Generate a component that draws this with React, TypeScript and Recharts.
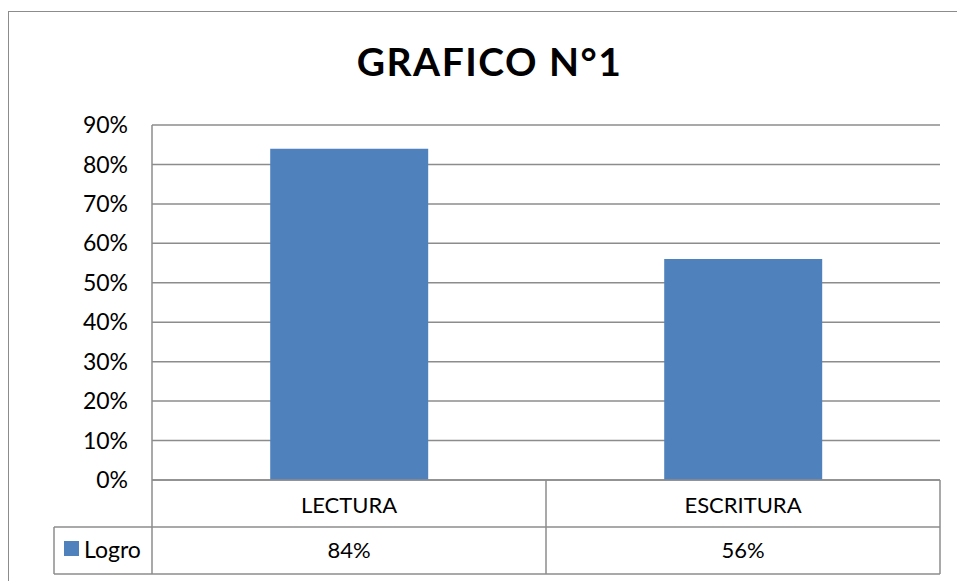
import { Bar, BarChart, CartesianGrid, XAxis, YAxis } from 'recharts';

const categories = ['LECTURA', 'ESCRITURA'];
const logro = [84, 56];
const yTicks = [0, 10, 20, 30, 40, 50, 60, 70, 80, 90];
const seriesName = 'Logro';
const title = 'GRAFICO N°1';

const data = categories.map((name, i) => ({ name, logro: logro[i] }));

const FONT = 'Lato, "Open Sans", sans-serif';
const GRID = '#8c8c8c';
const BAR = '#4f81bd';

function TableTick(props: any) {
  const { x, y, payload, index, width } = props;
  const band = width / categories.length;
  const left = x - band / 2;
  const right = x + band / 2;
  const row1 = y + 47;
  const row2 = y + 94;
  return (
    <g>
      <line x1={right} y1={y} x2={right} y2={row2} stroke={GRID} strokeWidth={1.5} />
      <line x1={left} y1={row1} x2={right} y2={row1} stroke={GRID} strokeWidth={1.5} />
      <line x1={left} y1={row2} x2={right} y2={row2} stroke={GRID} strokeWidth={1.5} />
      <text x={x} y={y + 33} textAnchor="middle" fontFamily={FONT} fontSize={22} fill="#000">
        {payload.value}
      </text>
      <text x={x} y={y + 78} textAnchor="middle" fontFamily={FONT} fontSize={22} fill="#000">
        {logro[index]}%
      </text>
      {index === 0 && (
        <g>
          <line x1={54} y1={row1} x2={left} y2={row1} stroke={GRID} strokeWidth={1.5} />
          <line x1={54} y1={row2} x2={left} y2={row2} stroke={GRID} strokeWidth={1.5} />
          <line x1={54} y1={row1} x2={54} y2={row2} stroke={GRID} strokeWidth={1.5} />
          <line x1={left} y1={y} x2={left} y2={row2} stroke={GRID} strokeWidth={1.5} />
          <rect x={64} y={row1 + 14} width={15} height={15} fill={BAR} />
          <text x={84} y={y + 78} fontFamily={FONT} fontSize={23} fill="#000">
            {seriesName}
          </text>
        </g>
      )}
    </g>
  );
}

export default function App() {
  return (
    <div
      style={{
        position: 'absolute',
        left: 0,
        top: 0,
        width: 957,
        height: 581,
        overflow: 'hidden',
        background: '#fff'
      }}
    >
      <div
        style={{
          position: 'absolute',
          left: 8,
          top: 11,
          width: 1000,
          height: 700,
          border: '1.5px solid #8c8c8c',
          boxSizing: 'border-box'
        }}
      />
      <div
        style={{
          position: 'absolute',
          left: 0,
          top: 37,
          width: 979,
          textAlign: 'center',
          fontFamily: FONT,
          fontWeight: 700,
          fontSize: 39,
          letterSpacing: 1.5,
          color: '#000',
          lineHeight: '48px'
        }}
      >
        {title}
      </div>
      <div style={{ position: 'absolute', left: 0, top: 0 }}>
        <BarChart
          width={957}
          height={581}
          data={data}
          margin={{ top: 125, right: 17, left: 0, bottom: 0 }}
          barCategoryGap="30%"
        >
          <CartesianGrid vertical={false} stroke={GRID} strokeWidth={1.5} />
          <XAxis
            dataKey="name"
            height={101}
            tickSize={0}
            tickMargin={0}
            axisLine={{ stroke: GRID, strokeWidth: 1.5 }}
            tick={<TableTick />}
            interval={0}
          />
          <YAxis
            width={152}
            domain={[0, 90]}
            ticks={yTicks}
            tickFormatter={(v: number) => `${v}%`}
            tickSize={0}
            tickMargin={24}
            axisLine={{ stroke: GRID, strokeWidth: 1.5 }}
            tick={{ fill: '#000', fontSize: 23, fontFamily: FONT }}
          />
          <Bar dataKey="logro" name={seriesName} fill={BAR} isAnimationActive={false} />
        </BarChart>
      </div>
    </div>
  );
}
